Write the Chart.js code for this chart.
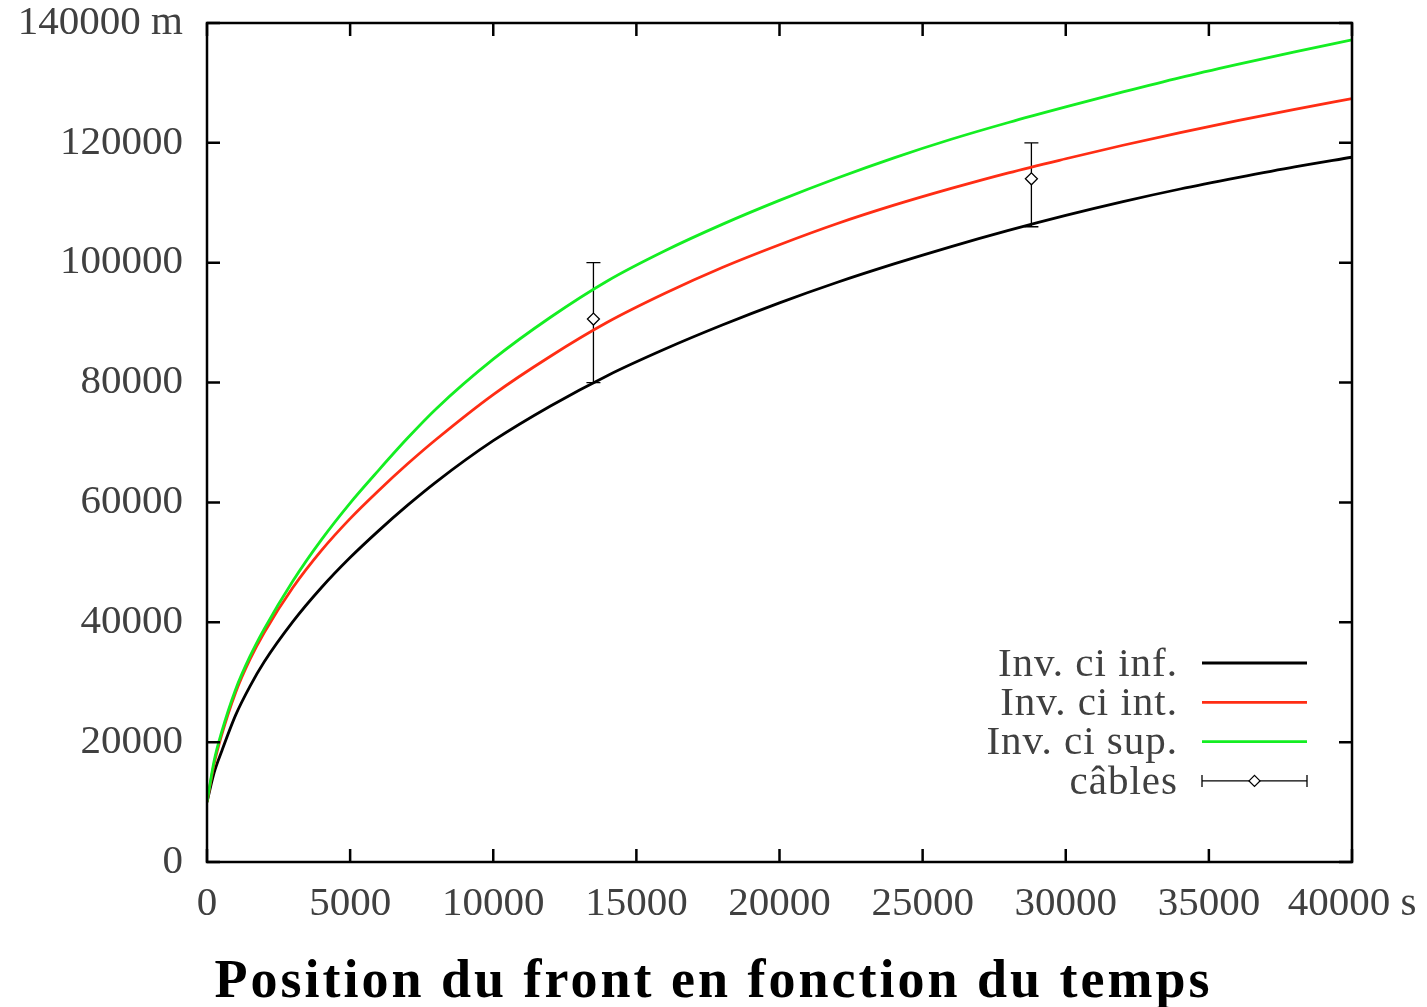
<!DOCTYPE html>
<html lang="fr">
<head>
<meta charset="UTF-8">
<title>Position du front en fonction du temps</title>
<script src="https://cdn.jsdelivr.net/npm/chart.js"></script>
<style>
    html, body { margin: 0; padding: 0; background: #fff; }
    #wrap { width: 1427px; height: 1007px; }
</style>
</head>
<body>
<div id="wrap"><canvas id="chart" width="1427" height="1007"></canvas></div>
<script>
// temps (s) and front position (m)
const times = [0, 250, 500, 1000, 1500, 2000, 3000, 4000, 5000, 6000, 7000, 8000, 10000, 12000, 14000,
    16000, 18000, 20000, 22000, 24000, 26000, 28000, 30000, 32000, 34000, 36000, 38000, 40000];
const ciInf = [10000, 14900, 18300, 24500, 29300, 33400, 40100, 45800, 50800, 55300, 59500, 63400, 70300, 76100, 81200,
    85600, 89600, 93300, 96700, 99800, 102700, 105400, 107900, 110200, 112300, 114200, 116000, 117600];
const ciInt = [10000, 16400, 21000, 28300, 33800, 38300, 45800, 52000, 57300, 62000, 66400, 70500, 78000, 84400, 90100,
    94900, 99200, 103000, 106500, 109600, 112400, 115000, 117350, 119600, 121700, 123700, 125600, 127400];
const ciSup = [10000, 16900, 21500, 28800, 34300, 38900, 46900, 53800, 59900, 65400, 70700, 75600, 83900, 90900, 97000,
    102000, 106400, 110400, 114100, 117500, 120600, 123400, 126000, 128500, 130900, 133100, 135200, 137200];

// measurements (câbles) with error bars
const cablesT = [13500, 28800];
const cablesPos = [90600, 114000];
const cablesLow = [80000, 106000];
const cablesHigh = [100000, 120000];

const xTicks = [0, 5000, 10000, 15000, 20000, 25000, 30000, 35000, 40000];
const yTicks = [0, 20000, 40000, 60000, 80000, 100000, 120000, 140000];

const titleText = 'Position du front en fonction du temps';
const labelFont = "'Liberation Serif', 'DejaVu Serif', serif";
const textGrey = '#404040';

function toXY(xs, ys) {
    return xs.map((t, i) => ({ x: t, y: ys[i] }));
}

// error bars, drawn under the diamonds
const errorBars = {
    id: 'errorBars',
    beforeDatasetsDraw(chart) {
        const { ctx, scales: { x, y } } = chart;
        ctx.save();
        ctx.strokeStyle = '#000';
        ctx.lineWidth = 1.3;
        cablesT.forEach((t, i) => {
            const px = x.getPixelForValue(t);
            const lo = y.getPixelForValue(cablesLow[i]);
            const hi = y.getPixelForValue(cablesHigh[i]);
            ctx.beginPath();
            ctx.moveTo(px, lo); ctx.lineTo(px, hi);
            ctx.moveTo(px - 7, lo); ctx.lineTo(px + 7, lo);
            ctx.moveTo(px - 7, hi); ctx.lineTo(px + 7, hi);
            ctx.stroke();
        });
        ctx.restore();
    }
};

// gnuplot style box with inward ticks on every side
const frame = {
    id: 'frame',
    afterDatasetsDraw(chart) {
        const { ctx, chartArea: a, scales: { x, y } } = chart;
        const len = 13;
        ctx.save();
        ctx.strokeStyle = '#000';
        ctx.lineWidth = 2.5;
        ctx.beginPath();
        x.ticks.forEach(t => {
            const px = x.getPixelForValue(t.value);
            ctx.moveTo(px, a.bottom); ctx.lineTo(px, a.bottom - len);
            ctx.moveTo(px, a.top); ctx.lineTo(px, a.top + len);
        });
        y.ticks.forEach(t => {
            const py = y.getPixelForValue(t.value);
            ctx.moveTo(a.left, py); ctx.lineTo(a.left + len, py);
            ctx.moveTo(a.right, py); ctx.lineTo(a.right - len, py);
        });
        ctx.stroke();
        ctx.strokeRect(a.left, a.top, a.right - a.left, a.bottom - a.top);
        ctx.restore();
    }
};

// legend inside the plot, bottom right, and the bold caption under the axis
const insideLegend = {
    id: 'insideLegend',
    afterDraw(chart) {
        const { ctx, chartArea: a, width, height } = chart;
        const textRight = a.right - 174;
        const x0 = a.right - 150, x1 = a.right - 45;
        ctx.save();
        ctx.font = '41px ' + labelFont;
        ctx.letterSpacing = '1px';
        ctx.textAlign = 'right';
        ctx.textBaseline = 'middle';
        chart.data.datasets.forEach((ds, i) => {
            const yy = a.bottom - 199 + i * 39.3;
            ctx.fillStyle = textGrey;
            ctx.fillText(ds.label, textRight, yy + 2);
            ctx.beginPath();
            if (ds.showLine === false) {
                ctx.strokeStyle = '#000';
                ctx.lineWidth = 1.3;
                ctx.moveTo(x0, yy); ctx.lineTo(x1, yy);
                ctx.moveTo(x0, yy - 6); ctx.lineTo(x0, yy + 6);
                ctx.moveTo(x1, yy - 6); ctx.lineTo(x1, yy + 6);
                ctx.stroke();
                const cx = (x0 + x1) / 2, r = 5.5;
                ctx.beginPath();
                ctx.moveTo(cx, yy - r); ctx.lineTo(cx + r, yy);
                ctx.lineTo(cx, yy + r); ctx.lineTo(cx - r, yy);
                ctx.closePath();
                ctx.fillStyle = '#fff';
                ctx.fill();
                ctx.stroke();
            } else {
                ctx.strokeStyle = ds.borderColor;
                ctx.lineWidth = 2.8;
                ctx.moveTo(x0, yy); ctx.lineTo(x1, yy);
                ctx.stroke();
            }
        });

        ctx.font = 'bold 54px ' + labelFont;
        ctx.letterSpacing = '3px';
        ctx.textAlign = 'center';
        ctx.textBaseline = 'alphabetic';
        ctx.fillStyle = '#000';
        ctx.fillText(titleText, width / 2, height - 10);
        ctx.restore();
    }
};

const tickFont = { family: labelFont, size: 41, lineHeight: 1.1 };

new Chart(document.getElementById('chart'), {
    type: 'line',
    data: {
        datasets: [
            { label: 'Inv. ci inf.', data: toXY(times, ciInf), borderColor: '#000000', borderWidth: 2.8,
              pointRadius: 0, cubicInterpolationMode: 'monotone', order: 3 },
            { label: 'Inv. ci int.', data: toXY(times, ciInt), borderColor: '#ff2d14', borderWidth: 2.8,
              pointRadius: 0, cubicInterpolationMode: 'monotone', order: 2 },
            { label: 'Inv. ci sup.', data: toXY(times, ciSup), borderColor: '#14ee22', borderWidth: 2.8,
              pointRadius: 0, cubicInterpolationMode: 'monotone', order: 1 },
            { label: 'câbles', data: toXY(cablesT, cablesPos), showLine: false, pointStyle: 'rectRot',
              pointRadius: 6, borderColor: '#000', backgroundColor: '#fff', borderWidth: 1.3, order: 0 }
        ]
    },
    options: {
        responsive: false,
        animation: false,
        layout: { padding: { left: 0, top: 23, right: 75, bottom: 60 } },
        plugins: {
            legend: { display: false },
            tooltip: { enabled: false },
            title: { display: false }
        },
        scales: {
            x: {
                type: 'linear',
                min: 0,
                max: 40000,
                afterBuildTicks: s => { s.ticks = xTicks.map(v => ({ value: v })); },
                afterFit: s => { s.height = 85; s.paddingLeft = 0; s.paddingRight = 0; },
                grid: { display: false },
                border: { display: false },
                ticks: {
                    color: textGrey,
                    font: tickFont,
                    padding: 12,
                    maxRotation: 0,
                    autoSkip: false,
                    callback: (v, i, arr) => i === arr.length - 1 ? v + ' s' : String(v)
                }
            },
            y: {
                type: 'linear',
                min: 0,
                max: 140000,
                afterBuildTicks: s => { s.ticks = yTicks.map(v => ({ value: v })); },
                afterFit: s => { s.width = 207; s.paddingTop = 0; s.paddingBottom = 0; },
                grid: { display: false },
                border: { display: false },
                ticks: {
                    color: textGrey,
                    font: tickFont,
                    padding: 16,
                    autoSkip: false,
                    callback: (v, i, arr) => i === arr.length - 1 ? v + ' m' : String(v)
                }
            }
        }
    },
    plugins: [errorBars, frame, insideLegend]
});
</script>
</body>
</html>
